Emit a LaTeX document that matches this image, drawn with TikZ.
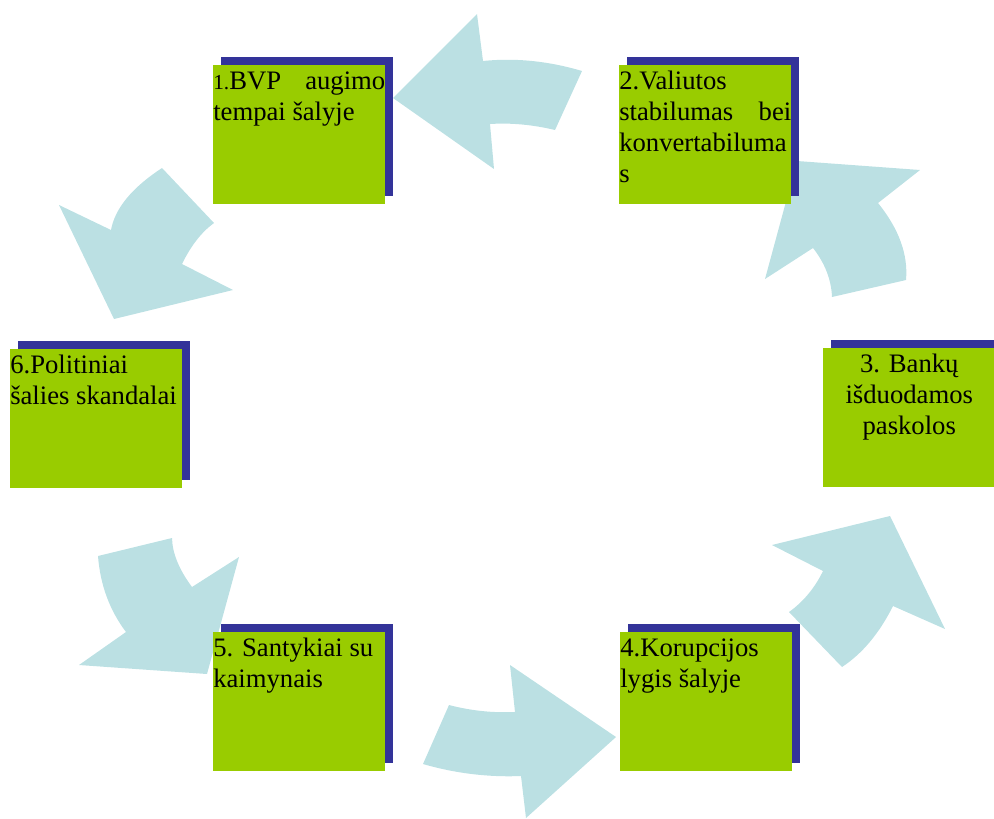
\documentclass[tikz,border=0pt]{standalone}
\usepackage{fontspec}
\setmainfont{Liberation Serif}
\usetikzlibrary{calc}
\definecolor{gboxc}{HTML}{99CC00}
\definecolor{sboxc}{HTML}{333399}
\definecolor{arrc}{HTML}{BBE0E3}
\tikzset{
  arr/.style={fill=arrc},
  gbox/.style={fill=gboxc, draw=none, anchor=north west, minimum width=129pt, minimum height=104.25pt, inner sep=0pt, outer sep=0pt},
  sbox/.style={fill=sboxc, draw=none, anchor=north west, minimum width=129pt, minimum height=104.25pt, inner sep=0pt, outer sep=0pt},
  txt/.style={anchor=north west, inner sep=0pt, text width=129pt, align=flush left, font=\fontsize{20}{23.25}\selectfont},
}
\newcommand{\fl}{\rule{0pt}{18.3pt}}
\begin{document}
\begin{tikzpicture}[x=0.75pt,y=-0.75pt]
\useasboundingbox (0,0) rectangle (994,818);
% arrow A (top, pointing left)
\fill[arr] (393,98) -- (477,14) -- (483,61)
  .. controls ($(483,61)!0.667!(531.5,56)$) and ($(582,71)!0.667!(531.5,56)$) .. (582,71)
  -- (555,130)
  .. controls ($(555,130)!0.667!(521.5,122)$) and ($(490,124)!0.667!(521.5,122)$) .. (490,124)
  -- (494,169) -- cycle;
% arrow B (right top, pointing up-left)
\fill[arr] (797,161) -- (920,170) -- (878,203)
  .. controls ($(878,203)!0.667!(909.4,241.9)$) and ($(906,280)!0.667!(909.4,241.9)$) .. (906,280)
  -- (832,297)
  .. controls ($(832,297)!0.667!(830.9,270.9)$) and ($(813,248)!0.667!(830.9,270.9)$) .. (813,248)
  -- (765,279) -- cycle;
% arrow C (right bottom, pointing up-right)
\fill[arr] (890,516) -- (945,629) -- (893,606)
  .. controls ($(893,606)!0.667!(872.5,646.9)$) and ($(842,667)!0.667!(872.5,646.9)$) .. (842,667)
  -- (789,612)
  .. controls ($(789,612)!0.667!(810.6,596.5)$) and ($(823,571)!0.667!(810.6,596.5)$) .. (823,571)
  -- (772,545) -- cycle;
% arrow D (bottom, pointing right)
\fill[arr] (616,737) -- (526,818) -- (521,776)
  .. controls ($(521,776)!0.667!(471.4,778)$) and ($(423,764)!0.667!(471.4,778)$) .. (423,764)
  -- (449,705)
  .. controls ($(449,705)!0.667!(481.4,713.5)$) and ($(515,712)!0.667!(481.4,713.5)$) .. (515,712)
  -- (510,665) -- cycle;
% arrow E (left bottom, pointing down-right)
\fill[arr] (207,674) -- (79,665) -- (126,632)
  .. controls ($(126,632)!0.667!(101.4,599.4)$) and ($(98,556)!0.667!(101.4,599.4)$) .. (98,556)
  -- (172,538)
  .. controls ($(172,538)!0.667!(172.6,560.9)$) and ($(192,587)!0.667!(172.6,560.9)$) .. (192,587)
  -- (239,557) -- cycle;
% arrow F (left top, pointing down-left)
\fill[arr] (114,319) -- (59,205) -- (111,230)
  .. controls ($(111,230)!0.667!(116.9,197.6)$) and ($(162,168)!0.667!(116.9,197.6)$) .. (162,168)
  -- (214,223)
  .. controls ($(214,223)!0.667!(195.4,236.5)$) and ($(182,264)!0.667!(195.4,236.5)$) .. (182,264)
  -- (233,290) -- cycle;
% boxes
\node[sbox] (s1) at (221,57) {};
\node[gbox] (b1) at (213,65) {};
\node[txt] (t1) at (b1.north west) {\fl{\fontsize{16}{18}\selectfont 1.}BVP\hfill augimo\\tempai šalyje};
\node[sbox] (s2) at (627,57) {};
\node[gbox] (b2) at (619,65) {};
\node[txt] (t2) at (b2.north west) {\fl 2.Valiutos\\stabilumas\hfill bei\\konvertabiluma\\s};
\node[sbox] (s3) at (831,340) {};
\node[gbox] (b3) at (823,348) {};
\node[txt, align=flush center] (t3) at (b3.north west) {\fl 3. Bankų\\išduodamos\\paskolos};
\node[sbox] (s4) at (628,624) {};
\node[gbox] (b4) at (620,632) {};
\node[txt] (t4) at (b4.north west) {\fl 4.Korupcijos\\lygis šalyje};
\node[sbox] (s5) at (221,624) {};
\node[gbox] (b5) at (213,632) {};
\node[txt] (t5) at (b5.north west) {\fl 5. Santykiai su\\kaimynais};
\node[sbox] (s6) at (18,341) {};
\node[gbox] (b6) at (10,349) {};
\node[txt] (t6) at (b6.north west) {\fl 6.Politiniai\\šalies skandalai};
\end{tikzpicture}
\end{document}
